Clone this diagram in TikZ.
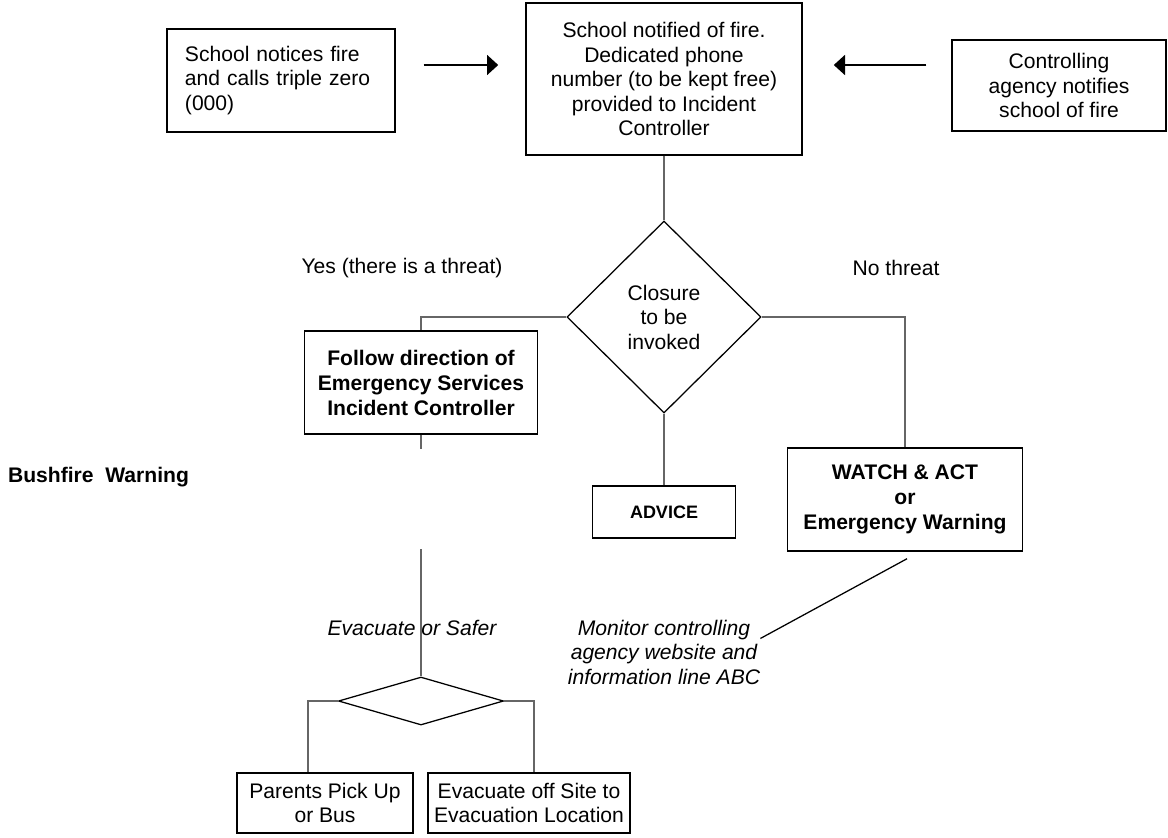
\documentclass[tikz,border=0pt]{standalone}
\usepackage{fontspec}
\setmainfont{Liberation Sans}
\usetikzlibrary{shapes.geometric,arrows.meta,calc}

\begin{document}
\begin{tikzpicture}[x=0.025cm,y=-0.025cm,
  every node/.style={font=\fontsize{15}{17.4}\selectfont},
  box/.style={draw,line width=1pt,align=center,inner sep=0pt},
  bbox/.style={box,font=\fontsize{15}{17.8}\selectfont\bfseries},
  choice/.style={draw,diamond,line width=0.9pt,inner sep=0pt,align=center},
  link/.style={black!60,line width=0.75pt},
  bigarrow/.style={line width=2.1pt,-{Triangle[length=8pt,width=14pt]}}]
\useasboundingbox (0,0) rectangle (1168,837);
\node [box,align=left,text width=4.8cm,inner xsep=0.45cm,minimum height=2.575cm] (notice) at (281,80.5) {School notices fire\\and calls triple zero\\(000)};
\node [box,minimum width=6.9cm,minimum height=3.8cm] (notified) at (664,79) {School notified of fire.\\Dedicated phone\\number (to be kept free)\\provided to Incident\\Controller};
\node [box,minimum width=5.35cm,minimum height=2.275cm] (agency) at (1059,85.5) {Controlling\\agency notifies\\school of fire};
\node [choice,minimum width=4.85cm,minimum height=4.8cm] (closure) at (664,317) {Closure\\to be\\invoked};
\node [bbox,minimum width=5.825cm,minimum height=2.575cm] (follow) at (421,382.5) {Follow direction of\\Emergency Services\\Incident Controller};
\node [bbox,minimum width=3.575cm,minimum height=1.3cm,font=\fontsize{12.8}{15}\selectfont\bfseries] (advice) at (664,512) {ADVICE};
\node [bbox,minimum width=5.875cm,minimum height=2.575cm] (wae) at (905,499.5) {WATCH \& ACT\\or\\Emergency Warning};
\node [choice,minimum width=4.125cm,minimum height=1.2cm] (evac) at (421,701) {};
\node [box,minimum width=4.4cm,minimum height=1.5cm] (parents) at (325,803) {Parents Pick Up\\or Bus};
\node [box,minimum width=5.05cm,minimum height=1.5cm] (offsite) at (529,803) {Evacuate off Site to\\Evacuation Location};
\node (yes) at (402,268) {Yes (there is a threat)};
\node (nothreat) at (896,268) {No threat};
\node [font=\fontsize{15}{17.4}\selectfont\bfseries] (warning) at (98.5,477) {Bushfire\ \ Warning};
\node [font=\fontsize{15}{17.4}\selectfont\itshape] (safer) at (412,628) {Evacuate or Safer};
\node [align=center,inner sep=0pt,font=\fontsize{15}{17.4}\selectfont\itshape] (monitor) at (664,652) {Monitor controlling\\agency website and\\information line ABC};
\draw [bigarrow,shorten <=0.7cm,shorten >=0.675cm] ($(notice.east)+(0,-15.5)$) -- ($(notified.west)+(0,-14)$);
\draw [bigarrow,shorten <=0.625cm,shorten >=0.775cm] ($(agency.west)+(0,-20.5)$) -- ($(notified.east)+(0,-14)$);
\draw [link] (notified) -- (closure);
\draw [link] (closure.west) -| (follow.north);
\draw [link] (closure.east) -| (wae.north);
\draw [link] (closure) -- (advice);
\draw [link] (follow.south) -- ++(0,14);
\draw [link] (evac.north) -- ++(0,-127);
\draw [link] (evac.west) -| ($(parents.north)+(-17,0)$);
\draw [link] (evac.east) -| ($(offsite.north)+(5,0)$);
\draw [line width=0.9pt] ($(wae.south)+(2,7)$) -- (monitor.8);
\end{tikzpicture}
\end{document}
